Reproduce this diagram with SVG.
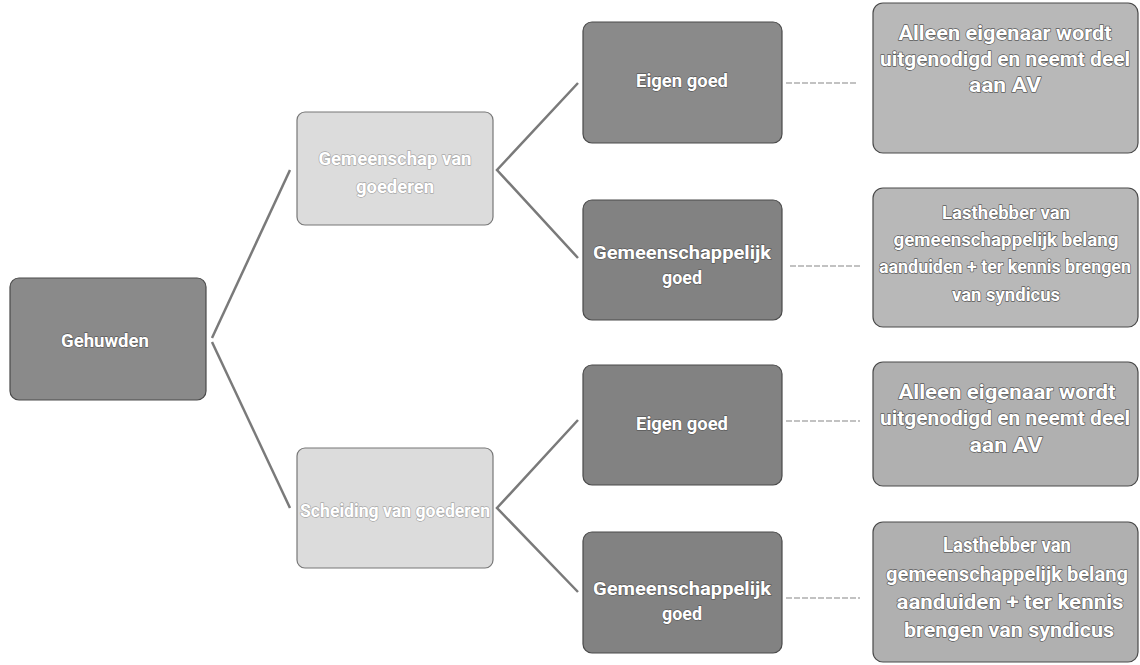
<svg xmlns="http://www.w3.org/2000/svg" width="1140" height="665" viewBox="0 0 1140 665">
<style>
.box{stroke:#4a4a4a;stroke-width:1.2}
.dark{fill:#8a8a8a}
.dark2{fill:#828282}
.light{fill:#dcdcdc;stroke:#777}
.mid{fill:#b8b8b8}
.mid2{fill:#b0b0b0}
text{font-family:Roboto,"Liberation Sans",sans-serif;font-weight:bold;fill:#ffffff;text-anchor:middle;dominant-baseline:central;paint-order:stroke;stroke:#5a5a5a;stroke-width:1.3px;stroke-linejoin:round}
.lt{stroke:#a8a8a8}
.conn{stroke:#7a7a7a;stroke-width:2.5;fill:none}
.faint{stroke:#c2c2c2;stroke-width:2;fill:none;stroke-dasharray:6 2}
</style>
<rect width="1140" height="665" fill="#ffffff"/>
<g id="connectors">
<line class="conn" x1="212" y1="338" x2="290" y2="170"/>
<line class="conn" x1="212" y1="342" x2="290" y2="508"/>
<polyline class="conn" points="578,83 497,170 578,258"/>
<polyline class="conn" points="578,420 497,508 578,592"/>
<line class="faint" x1="786" y1="83" x2="858" y2="83"/>
<line class="faint" x1="790" y1="266" x2="860" y2="266"/>
<line class="faint" x1="786" y1="421" x2="860" y2="421"/>
<line class="faint" x1="786" y1="598" x2="860" y2="598"/>
</g>
<g id="n-gehuwden">
<rect class="box dark" x="10" y="278" width="196" height="122" rx="9"/>
<text x="105" y="340" font-size="19" textLength="88" lengthAdjust="spacingAndGlyphs">Gehuwden</text>
</g>
<g id="n-gemeenschap">
<rect class="box light" x="297" y="112" width="196" height="113" rx="8"/>
<text class="lt" x="395" y="158" font-size="18" textLength="153" lengthAdjust="spacingAndGlyphs">Gemeenschap van</text>
<text class="lt" x="395" y="186" font-size="18" textLength="78" lengthAdjust="spacingAndGlyphs">goederen</text>
</g>
<g id="n-scheiding">
<rect class="box light" x="297" y="448" width="196" height="120" rx="8"/>
<text class="lt" x="395" y="510" font-size="18" textLength="190" lengthAdjust="spacingAndGlyphs">Scheiding van goederen</text>
</g>
<g id="n-eigen1">
<rect class="box dark" x="583" y="22" width="199" height="121" rx="9"/>
<text x="682" y="80" font-size="19" textLength="92" lengthAdjust="spacingAndGlyphs">Eigen goed</text>
</g>
<g id="n-gem1">
<rect class="box dark2" x="583" y="200" width="199" height="120" rx="9"/>
<text x="682" y="252" font-size="19" textLength="178" lengthAdjust="spacingAndGlyphs">Gemeenschappelijk</text>
<text x="682" y="277" font-size="19" textLength="40" lengthAdjust="spacingAndGlyphs">goed</text>
</g>
<g id="n-eigen2">
<rect class="box dark2" x="583" y="365" width="199" height="120" rx="9"/>
<text x="682" y="423" font-size="19" textLength="92" lengthAdjust="spacingAndGlyphs">Eigen goed</text>
</g>
<g id="n-gem2">
<rect class="box dark2" x="583" y="532" width="199" height="121" rx="9"/>
<text x="682" y="588" font-size="19" textLength="178" lengthAdjust="spacingAndGlyphs">Gemeenschappelijk</text>
<text x="682" y="613" font-size="19" textLength="40" lengthAdjust="spacingAndGlyphs">goed</text>
</g>
<g id="n-r1">
<rect class="box mid" x="873" y="3" width="265" height="150" rx="10"/>
<text x="1005" y="33" font-size="20" textLength="213" lengthAdjust="spacingAndGlyphs">Alleen eigenaar wordt</text>
<text x="1005" y="59" font-size="20" textLength="250" lengthAdjust="spacingAndGlyphs">uitgenodigd en neemt deel</text>
<text x="1005" y="85" font-size="20" textLength="72" lengthAdjust="spacingAndGlyphs">aan AV</text>
</g>
<g id="n-r2">
<rect class="box mid" x="873" y="188" width="265" height="139" rx="10"/>
<text x="1006" y="212" font-size="18" textLength="128" lengthAdjust="spacingAndGlyphs">Lasthebber van</text>
<text x="1006" y="239" font-size="18" textLength="225" lengthAdjust="spacingAndGlyphs">gemeenschappelijk belang</text>
<text x="1005" y="266" font-size="18" textLength="252" lengthAdjust="spacingAndGlyphs">aanduiden + ter kennis brengen</text>
<text x="1006" y="294" font-size="18" textLength="108" lengthAdjust="spacingAndGlyphs">van syndicus</text>
</g>
<g id="n-r3">
<rect class="box mid2" x="873" y="362" width="265" height="124" rx="10"/>
<text x="1007" y="392" font-size="20" textLength="217" lengthAdjust="spacingAndGlyphs">Alleen eigenaar wordt</text>
<text x="1005" y="418" font-size="20" textLength="250" lengthAdjust="spacingAndGlyphs">uitgenodigd en neemt deel</text>
<text x="1006" y="445" font-size="20" textLength="73" lengthAdjust="spacingAndGlyphs">aan AV</text>
</g>
<g id="n-r4">
<rect class="box mid2" x="873" y="522" width="265" height="140" rx="10"/>
<text x="1007" y="545" font-size="20" textLength="128" lengthAdjust="spacingAndGlyphs">Lasthebber van</text>
<text x="1007" y="574" font-size="20" textLength="242" lengthAdjust="spacingAndGlyphs">gemeenschappelijk belang</text>
<text x="1010" y="602" font-size="20" textLength="227" lengthAdjust="spacingAndGlyphs">aanduiden + ter kennis</text>
<text x="1009" y="630" font-size="20" textLength="210" lengthAdjust="spacingAndGlyphs">brengen van syndicus</text>
</g>
</svg>
